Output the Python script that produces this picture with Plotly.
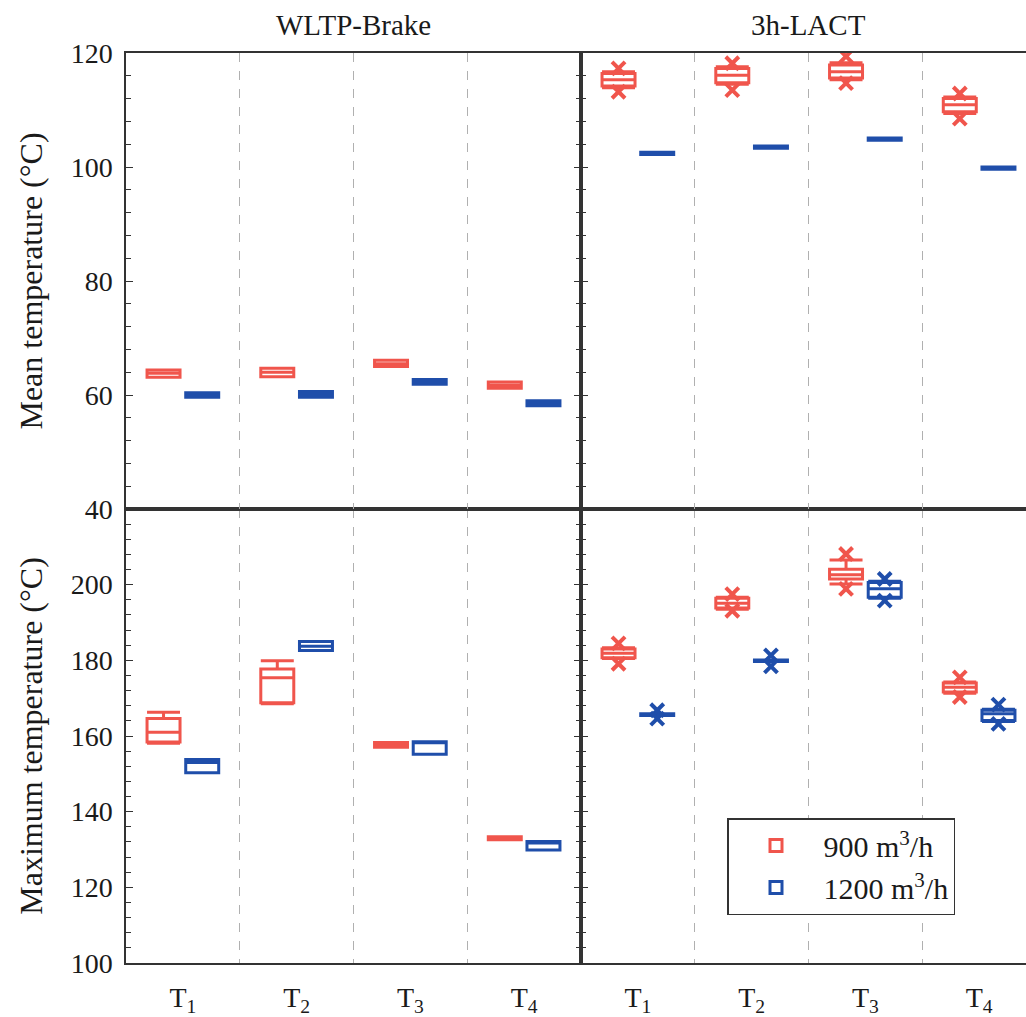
import plotly.graph_objects as go

# ---------------- data ----------------
categories = ["T<sub>1</sub>", "T<sub>2</sub>", "T<sub>3</sub>", "T<sub>4</sub>"]
series_names = ["900 m<sup>3</sup>/h", "1200 m<sup>3</sup>/h"]
panel_titles = ["WLTP-Brake", "3h-LACT"]

# five-number summaries per sensor: [lower fence, q1, median, q3, upper fence]
mean_wltp_900 = [[63.1, 63.1, 63.8, 64.4, 64.4], [63.2, 63.2, 64.0, 64.7, 64.7],
                 [65.0, 65.0, 65.5, 66.1, 66.1], [61.2, 61.2, 61.7, 62.3, 62.3]]
mean_wltp_1200 = [[59.6, 59.6, 60.0, 60.4, 60.4], [59.6, 59.6, 60.1, 60.6, 60.6],
                  [61.9, 61.9, 62.3, 62.7, 62.7], [58.1, 58.1, 58.6, 59.0, 59.0]]
mean_lact_900 = [[113.9, 114.2, 115.3, 116.4, 116.7], [114.5, 114.8, 116.1, 117.3, 117.6],
                 [115.3, 115.6, 116.7, 117.9, 118.3], [109.4, 109.7, 110.9, 112.0, 112.3]]
mean_lact_1200 = [[102.2, 102.2, 102.4, 102.6, 102.6], [103.3, 103.3, 103.5, 103.7, 103.7],
                  [104.7, 104.7, 104.9, 105.1, 105.1], [99.6, 99.6, 99.8, 100.0, 100.0]]
max_wltp_900 = [[158.1, 158.4, 161.0, 164.6, 166.3], [168.5, 168.8, 175.4, 177.7, 179.9],
                [157.0, 157.0, 157.7, 158.3, 158.3], [132.6, 132.6, 133.0, 133.4, 133.4]]
max_wltp_1200 = [[150.3, 150.3, 153.0, 153.8, 153.8], [182.6, 182.6, 183.7, 185.0, 185.0],
                 [155.2, 155.2, 158.2, 158.5, 158.5], [129.9, 129.9, 131.7, 132.1, 132.1]]
max_lact_900 = [[180.5, 180.7, 181.9, 183.0, 183.3], [193.5, 193.8, 195.1, 196.4, 196.7],
                [200.2, 201.5, 202.6, 204.1, 206.5], [171.3, 171.6, 172.9, 174.0, 174.3]]
max_lact_1200 = [[165.4, 165.4, 165.6, 165.9, 165.9], [179.7, 179.7, 179.9, 180.1, 180.1],
                 [196.4, 196.7, 198.9, 200.6, 200.9], [163.8, 164.1, 165.9, 166.8, 167.1]]

# outliers (x markers) per sensor
mean_lact_900_out = [[117.3, 113.2], [118.2, 113.5], [119.4, 114.7], [112.9, 108.5]]
max_lact_900_out = [[184.5, 179.1], [197.5, 193.1], [208.1, 198.9], [175.5, 170.3]]
max_lact_1200_out = [[166.8, 164.6], [181.3, 178.4], [201.5, 195.8], [168.3, 163.2]]

# ---------------- styling ----------------
RED = "#F0554C"
BLUE = "#1F4EAA"
FONT = "Liberation Serif"
AXC = "#333333"
TXT = "#1a1a1a"
OFFSET = 0.17
BOXW = 0.29

fig = go.Figure()


def add_boxes(stats, color, xa, ya, offset, name, showlegend, group):
    pos = [i + offset for i in range(len(stats))]
    fig.add_trace(go.Box(
        x=pos,
        lowerfence=[s[0] for s in stats],
        q1=[s[1] for s in stats],
        median=[s[2] for s in stats],
        q3=[s[3] for s in stats],
        upperfence=[s[4] for s in stats],
        width=BOXW, whiskerwidth=1, orientation="v",
        line=dict(color=color, width=3),
        fillcolor="rgba(255,255,255,0)",
        boxpoints=False,
        name=name, legendgroup=group, showlegend=showlegend,
        xaxis=xa, yaxis=ya,
    ))


def add_outliers(outs, color, xa, ya, offset):
    xs, ys = [], []
    for i, vals in enumerate(outs):
        for v in vals:
            xs.append(i + offset)
            ys.append(v)
    fig.add_trace(go.Scatter(
        x=xs, y=ys, mode="markers",
        marker=dict(symbol="x-thin", size=13, color=color,
                    line=dict(color=color, width=4)),
        showlegend=False, xaxis=xa, yaxis=ya, hoverinfo="skip",
    ))


# top-left: mean, WLTP (x3/y3); top-right: mean, LACT (x4/y4)
# bottom-left: max, WLTP (x/y); bottom-right: max, LACT (x2/y2)
add_boxes(mean_wltp_900, RED, "x3", "y3", -OFFSET, series_names[0], True, "a")
add_boxes(mean_wltp_1200, BLUE, "x3", "y3", OFFSET, series_names[1], True, "b")
add_boxes(mean_lact_900, RED, "x4", "y4", -OFFSET, series_names[0], False, "a")
add_boxes(mean_lact_1200, BLUE, "x4", "y4", OFFSET, series_names[1], False, "b")
add_boxes(max_wltp_900, RED, "x", "y", -OFFSET, series_names[0], False, "a")
add_boxes(max_wltp_1200, BLUE, "x", "y", OFFSET, series_names[1], False, "b")
add_boxes(max_lact_900, RED, "x2", "y2", -OFFSET, series_names[0], False, "a")
add_boxes(max_lact_1200, BLUE, "x2", "y2", OFFSET, series_names[1], False, "b")
add_outliers(mean_lact_900_out, RED, "x4", "y4", -OFFSET)
add_outliers(max_lact_900_out, RED, "x2", "y2", -OFFSET)
add_outliers(max_lact_1200_out, BLUE, "x2", "y2", OFFSET)

W, H = 1026, 1017
xl0, xmid, xr1 = 126 / W, 581 / W, 1.0
yb0 = (H - 963) / H
ymid = (H - 509) / H
yt1 = (H - 53) / H
group_px = (581 - 126) / 4
right_max = -0.5 + (W - 581) / group_px

tickfont = dict(family=FONT, size=28, color=TXT)


def xaxis(domain, anchor, rng, labels):
    return dict(
        domain=domain, anchor=anchor, range=rng, automargin=False,
        tickmode="array", tickvals=list(range(len(categories))), ticktext=categories,
        showticklabels=labels, ticks="", ticklabelstandoff=9,
        showgrid=False, zeroline=False,
        showline=True, linecolor=AXC, linewidth=1.5, mirror=True,
        minor=dict(tick0=0.5, dtick=1, showgrid=True, gridcolor="#b0b0b0",
                   griddash="dash", gridwidth=1.2, ticks=""),
        tickfont=tickfont,
    )


def yaxis(domain, anchor, rng, tickvals, labels, mirror, title=None):
    d = dict(
        domain=domain, anchor=anchor, range=rng, automargin=False,
        tickmode="array", tickvals=tickvals, showticklabels=labels,
        ticks="inside", ticklen=7, tickwidth=1.3, tickcolor=AXC,
        minor=dict(dtick=4, tick0=0, ticks="inside", ticklen=5, tickwidth=1.2, tickcolor=AXC,
                   showgrid=False),
        showgrid=False, zeroline=False,
        showline=True, linecolor=AXC, linewidth=1.5, mirror=mirror,
        tickfont=tickfont, ticklabelstandoff=6,
    )
    if title:
        d["title"] = dict(text=title, font=dict(family=FONT, size=32, color=TXT), standoff=18)
    return d


fig.update_layout(
    width=W, height=H,
    margin=dict(l=0, r=0, t=0, b=0),
    paper_bgcolor="white", plot_bgcolor="white",
    boxmode="overlay",
    font=dict(family=FONT, color=TXT),
    xaxis=xaxis([xl0, xmid], "y", [-0.5, 3.5], True),
    yaxis=yaxis([yb0, ymid], "x", [100, 220], [100, 120, 140, 160, 180, 200], True, "allticks",
                "Maximum temperature (°C)"),
    xaxis2=xaxis([xmid, xr1], "y2", [-0.5, right_max], True),
    yaxis2=yaxis([yb0, ymid], "x2", [100, 220], [100, 120, 140, 160, 180, 200], False, False),
    xaxis3=xaxis([xl0, xmid], "y3", [-0.5, 3.5], False),
    yaxis3=yaxis([ymid, yt1], "x3", [40, 120], [40, 60, 80, 100, 120], True, "allticks",
                 "Mean temperature (°C)"),
    xaxis4=xaxis([xmid, xr1], "y4", [-0.5, right_max], False),
    yaxis4=yaxis([ymid, yt1], "x4", [40, 120], [40, 60, 80, 100, 120], False, False),
    legend=dict(
        x=727 / W, y=(H - 818) / H, xanchor="left", yanchor="top",
        bgcolor="white", bordercolor=AXC, borderwidth=1.5,
        font=dict(family=FONT, size=30, color=TXT),
        itemwidth=85, tracegroupgap=0,
    ),
    showlegend=True,
    annotations=[
        dict(text=panel_titles[0], x=(xl0 + xmid) / 2, y=(H - 25) / H, xref="paper", yref="paper",
             xanchor="center", yanchor="middle",
             showarrow=False, font=dict(family=FONT, size=29, color=TXT)),
        dict(text=panel_titles[1], x=(581 + 4 * group_px / 2) / W, y=(H - 25) / H, xref="paper",
             yref="paper", xanchor="center", yanchor="middle",
             showarrow=False, font=dict(family=FONT, size=29, color=TXT)),
    ],
)

fig.write_html("out.html")
